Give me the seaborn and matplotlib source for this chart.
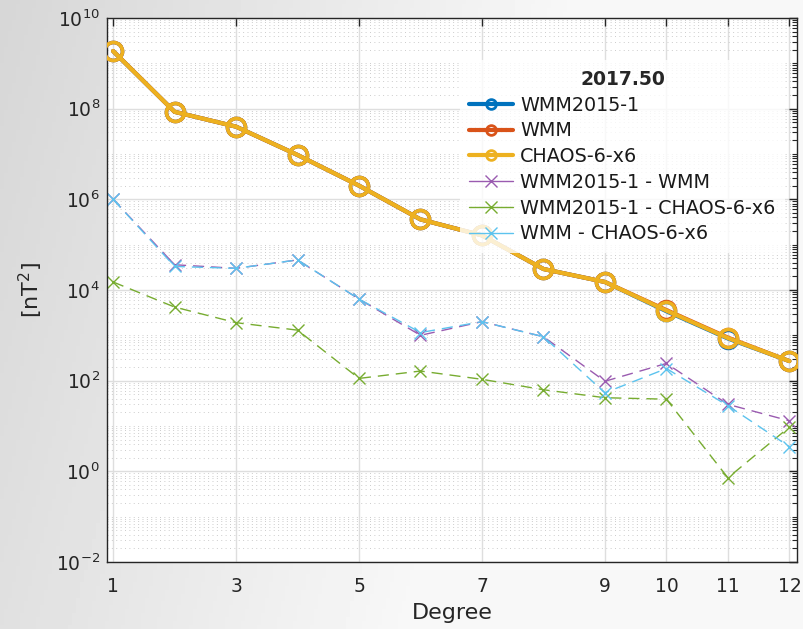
import numpy as np
import pandas as pd
import matplotlib
matplotlib.use("Agg")
import matplotlib.pyplot as plt
from matplotlib.lines import Line2D
from matplotlib.ticker import FixedLocator, NullLocator, LogFormatterSciNotation, NullFormatter
import seaborn as sns

# ---------------- data ----------------
degree = [1, 2, 3, 4, 5, 6, 7, 8, 9, 10, 11, 12]
wmm2015_1 = [1.86e9, 8.5e7, 4.0e7, 9.5e6, 2.0e6, 3.6e5, 1.6e5, 2.9e4, 1.5e4, 3.4e3, 8.5e2, 2.7e2]
wmm = [1.86e9, 8.5e7, 4.0e7, 9.5e6, 2.0e6, 3.6e5, 1.6e5, 2.9e4, 1.5e4, 3.6e3, 8.9e2, 2.7e2]
chaos = [1.86e9, 8.5e7, 4.0e7, 9.5e6, 2.0e6, 3.6e5, 1.6e5, 2.9e4, 1.5e4, 3.5e3, 8.7e2, 2.7e2]
diff_w15_wmm = [1.0e6, 3.6e4, 3.0e4, 4.6e4, 6.3e3, 1.0e3, 2.0e3, 9.3e2, 97, 240, 30, 13]
diff_w15_chaos = [1.5e4, 4.2e3, 1.9e3, 1.3e3, 112, 163, 107, 63, 42, 39, 0.72, 9.5]
diff_wmm_chaos = [1.0e6, 3.3e4, 3.0e4, 4.6e4, 6.3e3, 1.15e3, 2.0e3, 9.3e2, 54, 185, 28, 3.5]

xticks = [1, 3, 5, 7, 9, 10, 11, 12]
legend_title = "2017.50"
labels = ["WMM2015-1", "WMM", "CHAOS-6-x6",
          "WMM2015-1 - WMM", "WMM2015-1 - CHAOS-6-x6", "WMM - CHAOS-6-x6"]

c_blue = "#0072BD"
c_red = "#D95319"
c_yel = "#EDB120"
c_pur = "#9A5BB0"
c_grn = "#77AC30"
c_cya = "#5CC3EE"

sns.set_theme(style="white")
plt.rcParams['font.family'] = ['DejaVu Sans']
plt.rcParams['axes.unicode_minus'] = False

fig = plt.figure(figsize=(8.04, 6.29), dpi=100)

# background gradient
bg = fig.add_axes([0, 0, 1, 1], zorder=-10)
gx = np.linspace(0, 1, 200)
gy = np.linspace(0, 1, 160)
GX, GY = np.meshgrid(gx, gy)
grad = 0.84 + 0.13 * np.clip(GX * 1.4 + GY * 0.3, 0, 1)
bg.imshow(grad, cmap="gray", vmin=0, vmax=1, aspect="auto", extent=[0, 1, 0, 1])
bg.set_axis_off()

ax = fig.add_axes([0.133, 0.1065, 0.858, 0.865])
ax.set_facecolor("white")

main_series = [(wmm2015_1, c_blue), (wmm, c_red), (chaos, c_yel)]
for vals, col in main_series:
    sns.lineplot(x=degree, y=vals, ax=ax, color=col, linewidth=3.0, marker="o",
                 markersize=13, markerfacecolor="none", markeredgecolor=col,
                 markeredgewidth=2.5, zorder=3)

diff_series = [(diff_w15_wmm, c_pur), (diff_w15_chaos, c_grn), (diff_wmm_chaos, c_cya)]
for vals, col in diff_series:
    n0 = len(ax.lines)
    sns.lineplot(x=degree, y=vals, ax=ax, color=col, linewidth=1.0, marker="x",
                 markersize=9, markeredgewidth=1.0, markeredgecolor=col, zorder=2)
    for ln in ax.lines[n0:]:
        ln.set_linestyle((0, (8, 5)))
        ln.set_markeredgecolor(col)

ax.set_yscale("log")
ax.set_ylim(1e-2, 1e10)
ax.set_xlim(0.9, 12.12)
ax.xaxis.set_major_locator(FixedLocator(xticks))
ax.xaxis.set_minor_locator(NullLocator())
ax.yaxis.set_major_locator(FixedLocator([10.0 ** k for k in range(-2, 11, 2)]))
minor = []
for k in range(-2, 10):
    for m in range(1, 10):
        if m == 1 and k % 2 == 0:
            continue
        minor.append(m * 10.0 ** k)
ax.yaxis.set_minor_locator(FixedLocator(minor))
ax.yaxis.set_major_formatter(LogFormatterSciNotation())
ax.yaxis.set_minor_formatter(NullFormatter())

ax.grid(which="major", axis="both", color="#dedede", linewidth=1.0, linestyle="-", zorder=0)
ax.grid(which="minor", axis="y", color="#cccccc", linewidth=0.7, linestyle=(0, (1, 3.5)), zorder=0)
ax.set_axisbelow(True)

ax.tick_params(which="both", direction="in", top=True, right=True, colors="#262626",
               labelcolor="#262626")
ax.tick_params(which="major", length=6, width=1.0, labelsize=13.5)
ax.tick_params(axis="x", which="major", pad=11)
ax.tick_params(axis="y", which="major", pad=5)
ax.tick_params(which="minor", length=3.5, width=0.8)
for s in ax.spines.values():
    s.set_color("#262626")
    s.set_linewidth(1.0)

ax.set_xlabel("Degree", fontsize=16, color="#262626", labelpad=5)
ax.set_ylabel("[nT$^2$]", fontsize=16, color="#262626", labelpad=8)

handles = [
    Line2D([], [], color=c_blue, lw=3.0, marker="o", ms=7, mfc="none", mec=c_blue, mew=2.0),
    Line2D([], [], color=c_red, lw=3.0, marker="o", ms=7, mfc="none", mec=c_red, mew=2.0),
    Line2D([], [], color=c_yel, lw=3.0, marker="o", ms=7, mfc="none", mec=c_yel, mew=2.0),
    Line2D([], [], color=c_pur, lw=1.0, marker="x", ms=8, mew=1.0),
    Line2D([], [], color=c_grn, lw=1.0, marker="x", ms=8, mew=1.0),
    Line2D([], [], color=c_cya, lw=1.0, marker="x", ms=8, mew=1.0),
]
leg = ax.legend(handles, labels, title=legend_title, loc="upper right",
                bbox_to_anchor=(0.997, 0.94), fontsize=13.8,
                title_fontproperties={"weight": "bold", "size": 13.5},
                frameon=True, framealpha=0.8, edgecolor="none", facecolor="white",
                handlelength=2.3, handletextpad=0.35, labelspacing=0.35, borderpad=0.5)
leg._legend_box.sep = 5
for t in leg.get_texts():
    t.set_color("#1a1a1a")

fig.savefig("out.png", dpi=100)
